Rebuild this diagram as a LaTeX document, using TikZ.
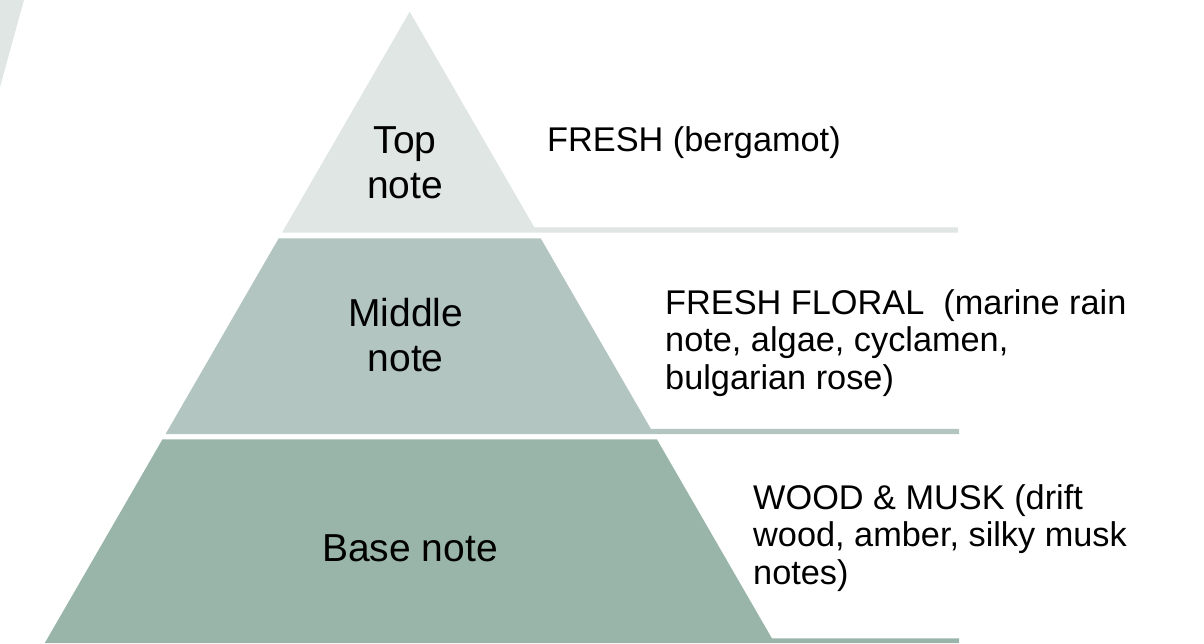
\documentclass[tikz,border=0pt]{standalone}
\usepackage{fontspec}
\setmainfont{Liberation Sans}
\definecolor{topc}{HTML}{DFE6E3}
\definecolor{midc}{HTML}{B2C5C0}
\definecolor{basec}{HTML}{99B5A9}
\begin{document}
\begin{tikzpicture}[x=1pt,y=-1pt,
  lbl/.style={inner sep=0pt,anchor=base,font=\fontsize{39}{45}\selectfont},
  desc/.style={inner sep=0pt,anchor=base west,font=\fontsize{34.3}{37.5}\selectfont}]
\useasboundingbox (0,0) rectangle (1204,643);
% faint corner shape
\fill[topc] (0,0) -- (24,0) -- (0,87) -- cycle;
% layers
\fill[topc] (409.7,11.7) -- (534.3,227.3) -- (958,227.3) -- (958,232.5) -- (282.1,232.5) -- cycle;
\fill[midc] (278.7,238.3) -- (540.7,238.3) -- (650.8,428.8) -- (959,428.8) -- (959,434) -- (165.6,434) -- cycle;
\fill[basec] (162.5,439.3) -- (656.9,439.3) -- (771.9,638.3) -- (959,638.3) -- (959,643) -- (44.8,643) -- cycle;
% labels
\node[lbl] (toplbl) at (405,153.3) {\begin{tabular}[t]{@{}c@{}}Top\\note\end{tabular}};
\node[lbl] (midlbl) at (405.7,326.7) {\begin{tabular}[t]{@{}c@{}}Middle\\note\end{tabular}};
\node[lbl] (baselbl) at (410,561.7) {Base note};
% descriptions
\node[desc] (topdesc) at (547,151.7) {FRESH (bergamot)};
\node[desc] (middesc) at (665,314) {\begin{tabular}[t]{@{}l@{}}FRESH FLORAL\ \ (marine rain\\note, algae, cyclamen,\\bulgarian rose)\end{tabular}};
\node[desc] (basedesc) at (753,509) {\begin{tabular}[t]{@{}l@{}}WOOD \& MUSK (drift\\wood, amber, silky musk\\notes)\end{tabular}};
\end{tikzpicture}
\end{document}
